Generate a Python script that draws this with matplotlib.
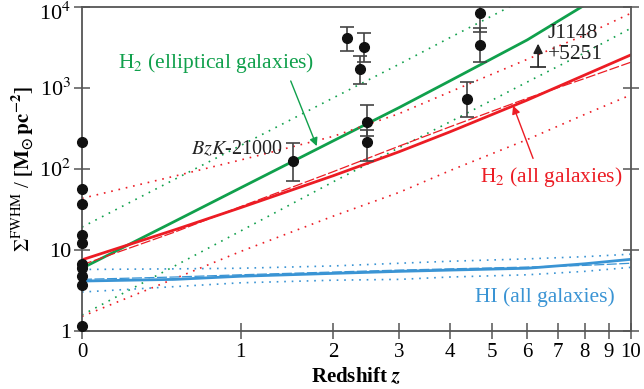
import numpy as np
import matplotlib
matplotlib.use("Agg")
import matplotlib.pyplot as plt
import matplotlib.transforms as mtransforms

plt.rcParams['font.family'] = ['Liberation Serif', 'DejaVu Serif']
plt.rcParams['mathtext.fontset'] = 'stix'

GREEN = '#10a04c'
RED = '#ec1c24'
BLUE = '#3a94d4'
AXC = '#555555'

# model curves
z_mod = [0, 0.5, 1, 2, 3, 4, 6, 8, 10]
h2_all = [7.5, 17.6, 33, 82, 162, 286, 703, 1435, 2535]
h2_all_dash = [6.5, 16.5, 34, 92, 190, 330, 740, 1300, 2060]
h2_all_up = [43, 81, 128, 251, 479, 890, 2240, 4470, 8280]
h2_all_lo = [1.5, 4.4, 9.5, 26, 51, 95, 229, 468, 813]
h2_ell = [5.9, 22.4, 58, 221, 569, 1220, 3890, 10500, 19000]
h2_ell_up = [19, 74, 193, 750, 1950, 4170, 12900, 30000, 50000]
h2_ell_lo = [1.56, 6.3, 17, 69, 182, 380, 1175, 2700, 5400]
hi_all = [4.1, 4.3, 4.7, 5.1, 5.4, 5.6, 5.9, 6.7, 7.6]
hi_all_dash = [4.3, 4.6, 4.9, 5.3, 5.6, 5.8, 6.1, 6.4, 6.8]
hi_all_up = [5.7, 5.8, 5.9, 6.3, 6.8, 7.2, 7.7, 8.2, 8.8]
hi_all_lo = [3.0, 3.5, 3.9, 4.2, 4.3, 4.6, 4.9, 5.4, 6.05]

# local galaxies (z = 0)
local_s = [215, 56, 37, 15, 12, 6.6, 6.0, 4.7, 3.7, 1.15]

# high-z detections with error bars
hz_z = [1.51, 2.19, 2.43, 2.37, 2.47, 2.47, 4.69, 4.69, 4.39]
hz_s = [124, 4070, 3210, 1690, 380, 215, 8430, 3370, 725]
hz_lo = [70, 2840, 2090, 1100, 250, 124, 4910, 2090, 438]
hz_hi = [209, 5660, 4700, 2460, 612, 300, 12000, 5410, 1166]

# J1148+5251 lower limit
lim_z = 6.34
lim_s = 1816
lim_top = 3500

fig = plt.figure(figsize=(6.44, 3.89), dpi=100)
ax = fig.add_axes([0.1273, 0.1499, 0.852, 0.8329])
ax.set_xscale('function', functions=(lambda z: np.log10(1 + np.asarray(z)),
                                     lambda u: 10 ** np.asarray(u) - 1))
ax.set_yscale('log')

ax.plot(z_mod, h2_ell, color=GREEN, lw=2)
ax.plot(z_mod, h2_ell_up, color=GREEN, lw=1.2, ls=(0, (1, 3.5)))
ax.plot(z_mod, h2_ell_lo, color=GREEN, lw=1.2, ls=(0, (1, 3.5)))

ax.plot(z_mod, h2_all, color=RED, lw=2)
ax.plot(z_mod, h2_all_dash, color=RED, lw=0.9, ls=(0, (8, 2)))
ax.plot(z_mod, h2_all_up, color=RED, lw=1.2, ls=(0, (1, 3.5)))
ax.plot(z_mod, h2_all_lo, color=RED, lw=1.2, ls=(0, (1, 3.5)))

ax.plot(z_mod, hi_all, color=BLUE, lw=2)
ax.plot(z_mod, hi_all_dash, color=BLUE, lw=0.9, ls=(0, (8, 2)))
ax.plot(z_mod, hi_all_up, color=BLUE, lw=1.2, ls=(0, (1, 3.5)))
ax.plot(z_mod, hi_all_lo, color=BLUE, lw=1.2, ls=(0, (1, 3.5)))

ax.plot([0] * len(local_s), local_s, 'o', color='#111111', ms=7, clip_on=False, zorder=5)

yerr = [np.array(hz_s) - np.array(hz_lo), np.array(hz_hi) - np.array(hz_s)]
ax.errorbar(hz_z, hz_s, yerr=yerr, fmt='o', color='#111111', ms=7,
            ecolor='#444444', elinewidth=1.2, capsize=5, capthick=1.2, zorder=5)

ax.plot([lim_z], [lim_s], marker='_', ms=11, mew=1.2, color='#222222')
ax.annotate('', xy=(lim_z, lim_top), xytext=(lim_z, lim_s),
            arrowprops=dict(arrowstyle='-|>', color='#222222', lw=1.2,
                            mutation_scale=14, shrinkA=0, shrinkB=0))

ax.text(0.17, 2020, r'H$_2$ (elliptical galaxies)', color=GREEN, fontsize=15.5, va='center')
ax.annotate('', xy=(1.79, 190), xytext=(1.49, 1210),
            arrowprops=dict(arrowstyle='-|>', color=GREEN, lw=1,
                            mutation_scale=12, shrinkA=0, shrinkB=0))
ax.text(4.69, 79, r'H$_2$ (all galaxies)', color=RED, fontsize=15.5, va='center')
ax.annotate('', xy=(5.58, 600), xytext=(6.18, 134),
            arrowprops=dict(arrowstyle='-|>', color=RED, lw=1,
                            mutation_scale=12, shrinkA=0, shrinkB=0))
ax.text(4.57, 2.6, 'HI (all galaxies)', color=BLUE, fontsize=15.5, va='center')
ax.text(1.41, 170, r'$BzK$-21000', color='#222222', fontsize=14.5, va='center', ha='right')
ax.text(6.66, 4730, 'J1148', color='#222222', fontsize=15.5, va='center')
ax.text(6.66, 2535, '+5251', color='#222222', fontsize=15.5, va='center')

ax.set_xlim(0, 10)
ax.set_ylim(1, 1e4)
xt = [0, 1, 2, 3, 4, 5, 6, 7, 8, 9, 10]
ax.set_xticks(xt)
ax.set_xticklabels([str(t) for t in xt], fontsize=15)
yt = [1, 10, 100, 1e3, 1e4]
ax.set_yticks(yt)
ax.set_yticklabels(['1', '10', r'10$^2$', r'10$^3$', r'10$^4$'], fontsize=16)
ax.minorticks_off()
ax.tick_params(axis='both', direction='inout', length=12, width=1.1, color=AXC, pad=2)
ax.tick_params(axis='x', pad=3)
ax.tick_params(axis='y', right=True)
for s in ax.spines.values():
    s.set_color(AXC)
    s.set_linewidth(1.3)

# nudge the top label down so it is not cut at the figure edge
top_lab = ax.get_yticklabels()[-1]
top_lab.set_transform(top_lab.get_transform() +
                      mtransforms.ScaledTranslation(0, -3 / 72, fig.dpi_scale_trans))

ax.set_xlabel(r'Redshift $\mathbfit{z}$', fontsize=15, fontweight='bold', labelpad=3)
ax.set_ylabel(r'$\Sigma^{\mathrm{FWHM}}$ / $\mathbf{[M_{\odot}\,pc^{-2}]}$', fontsize=15, labelpad=2)

fig.savefig('out.png', dpi=100)
